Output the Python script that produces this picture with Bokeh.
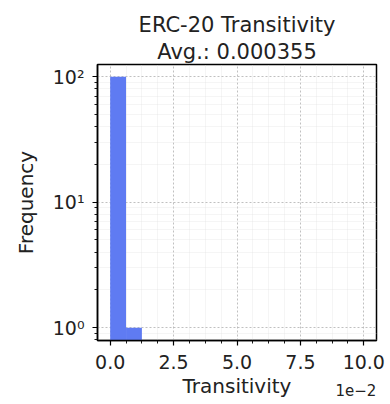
import numpy as np
from bokeh.plotting import figure
from bokeh.models import (FixedTicker, CustomJSTickFormatter, Range1d,
                          ColumnDataSource, Title, LinearAxis)
from bokeh.embed import file_html
from bokeh.resources import INLINE

# ---- data ----
title_lines = ["ERC-20 Transitivity", "Avg.: 0.000355"]
hist_range = (0.0, 0.1)
n_bins = 16
counts = [100, 1, 0, 0, 0, 0, 0, 0, 0, 0, 0, 0, 0, 0, 0, 0]
x_ticks = [0.0, 0.025, 0.05, 0.075, 0.1]
y_ticks = [1, 10, 100]
y_tick_labels = {1: "10\u2070", 10: "10\u00b9", 100: "10\u00b2"}
x_label = "Transitivity"
y_label = "Frequency"
offset_text = "1e\u22122"

edges = np.linspace(hist_range[0], hist_range[1], n_bins + 1)
left = [edges[i] for i, c in enumerate(counts) if c > 0]
right = [edges[i + 1] for i, c in enumerate(counts) if c > 0]
top = [c for c in counts if c > 0]

FONT = "DejaVu Sans"
TXT = "#222222"
span = hist_range[1] - hist_range[0]

p = figure(width=388, height=400, output_backend="svg", toolbar_location=None,
           title=None, y_axis_type="log",
           x_range=Range1d(hist_range[0] - 0.05 * span, hist_range[1] + 0.05 * span),
           y_range=Range1d(0.79, 125),
           min_border_left=97, min_border_right=12, min_border_top=64,
           min_border_bottom=59)

src = ColumnDataSource(dict(left=left, right=right, top=top,
                            bottom=[0.01] * len(top)))
p.quad(left="left", right="right", top="top", bottom="bottom", source=src,
       fill_color="#5f7bf2", line_color=None)

# two centred title lines (inner line added first)
for txt, so in ((title_lines[1], 2), (title_lines[0], 0)):
    p.add_layout(Title(text=txt, align="center", text_font=FONT,
                       text_font_size="21px", text_font_style="normal",
                       text_color=TXT, standoff=so), "above")

# frame
p.outline_line_color = "black"
p.outline_line_width = 1.5
p.outline_line_alpha = 1.0

# x axis
minor_x = [t for t in np.arange(0, 0.1001, 0.00625).round(6) if t not in x_ticks]
p.xaxis.ticker = FixedTicker(ticks=x_ticks, minor_ticks=list(minor_x))
p.xaxis.formatter = CustomJSTickFormatter(code="return (tick*100).toFixed(1)")
p.xaxis.axis_label = x_label

# y axis
minor_y = [m * d for d in (1, 10) for m in range(2, 10)] + [0.8, 0.9, 200]
p.yaxis.ticker = FixedTicker(ticks=y_ticks, minor_ticks=minor_y)
p.yaxis.major_label_overrides = y_tick_labels
p.yaxis.axis_label = y_label

for ax in (p.xaxis[0], p.yaxis[0]):
    ax.axis_line_color = "black"
    ax.axis_line_width = 1.5
    ax.major_tick_line_color = "black"
    ax.major_tick_line_width = 1.2
    ax.major_tick_in = 0
    ax.major_tick_out = 5
    ax.minor_tick_line_color = "black"
    ax.minor_tick_line_width = 0.9
    ax.minor_tick_in = 0
    ax.minor_tick_out = 3
    ax.major_label_text_font = FONT
    ax.major_label_text_font_size = "19px"
    ax.major_label_text_color = TXT
    ax.axis_label_text_font = FONT
    ax.axis_label_text_font_size = "20px"
    ax.axis_label_text_font_style = "normal"
    ax.axis_label_text_color = TXT

p.xaxis.major_label_standoff = 9
p.xaxis.axis_label_standoff = 2
p.yaxis.major_label_standoff = 8
p.yaxis.axis_label_standoff = 12

# grids
for g in (p.xgrid[0], p.ygrid[0]):
    g.grid_line_color = "#b0b0b0"
    g.grid_line_dash = "2 2"
    g.grid_line_width = 0.8
    g.minor_grid_line_color = "#e4e4e4"
    g.minor_grid_line_dash = "1 1"
    g.minor_grid_line_width = 0.7

p.background_fill_color = "white"
p.border_fill_color = "white"

# offset text (scale factor of the x axis): one tick label of a bare axis,
# placed near the right end and pulled up beside the main axis label
x_end = hist_range[1] + 0.05 * span
off_pos = round(x_end - 0.0081, 5)
off_ax = LinearAxis(ticker=FixedTicker(ticks=[off_pos], minor_ticks=[]),
                    major_label_overrides={off_pos: offset_text},
                    axis_line_color=None,
                    major_tick_out=0, major_tick_in=0,
                    minor_tick_out=0, minor_tick_in=0,
                    major_label_text_font=FONT, major_label_text_font_size="15px",
                    major_label_text_color=TXT, major_label_standoff=-17)
p.add_layout(off_ax, "below")

open("out.html", "w").write(file_html(p, INLINE))
